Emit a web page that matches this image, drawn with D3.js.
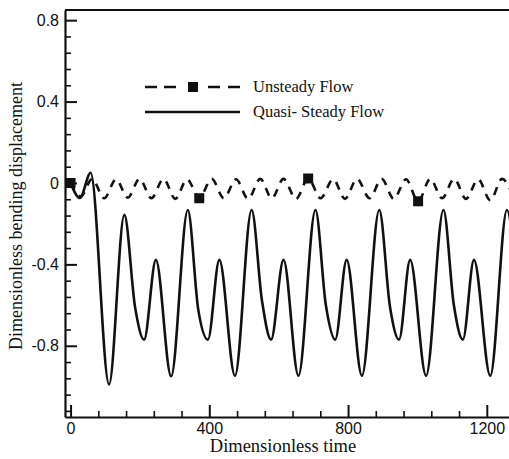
<!DOCTYPE html>
<html>
<head>
<meta charset="utf-8">
<script src="https://cdn.jsdelivr.net/npm/d3@7"></script>
<style>
  html, body { margin: 0; padding: 0; background: #fff; }
  svg { display: block; }
</style>
</head>
<body>
<svg id="chart" width="509" height="459"></svg>
<script>
// ---- data ----
const quasiTime = [0, 27, 58, 111, 155, 186, 212, 246, 290, 338, 368, 396, 429, 474, 522, 552, 578, 614, 657, 706, 736, 763, 796, 840, 890, 921, 947, 979, 1025, 1075, 1105, 1131, 1163, 1210, 1258, 1290];
const quasiValue = [0, -0.074, 0.05, -0.99, -0.157, -0.61, -0.77, -0.378, -0.95, -0.133, -0.62, -0.77, -0.378, -0.947, -0.133, -0.58, -0.77, -0.378, -0.947, -0.133, -0.6, -0.77, -0.378, -0.947, -0.133, -0.61, -0.77, -0.378, -0.947, -0.133, -0.6, -0.77, -0.378, -0.947, -0.133, -0.62];

const unsteadyTime = [0, 30, 62, 97, 131, 165, 199, 233, 268, 302, 336, 371, 407, 442, 477, 512, 547, 580, 614, 650, 685, 721, 757, 791, 826, 862, 897, 932, 967, 1002, 1037, 1071, 1106, 1140, 1175, 1210, 1244, 1278];
const unsteadyValue = [0, -0.065, 0.02, -0.075, 0.018, -0.072, 0.02, -0.075, 0.02, -0.078, 0.018, -0.075, 0.02, -0.075, 0.018, -0.078, 0.02, -0.075, 0.02, -0.078, 0.022, -0.075, 0.018, -0.078, 0.02, -0.075, 0.02, -0.078, 0.018, -0.09, 0.02, -0.075, 0.02, -0.078, 0.018, -0.085, 0.02, -0.075];
const unsteadyMarkerTime = [0, 371, 685, 1002];

const yMajorTicks = [-0.8, -0.4, 0, 0.4, 0.8];
const yTickLabels = ["-0.8", "-0.4", "0", "0.4", "0.8"];
const xMajorTicks = [0, 400, 800, 1200];
const xTickLabels = ["0", "400", "800", "1200"];

const seriesNames = ["Unsteady Flow", "Quasi- Steady Flow"];
const xTitle = "Dimensionless time";
const yTitle = "Dimensionless bending displacement";

// ---- layout ----
const svg = d3.select("#chart");
const pL = 65, pR = 509, pT = 10, pB = 417;
const x = d3.scaleLinear().domain([-16, 1264]).range([pL, pR]);
const y = d3.scaleLinear().domain([-1.15, 0.85]).range([pB, pT]);
const ink = "#111";

svg.append("defs").append("clipPath").attr("id", "clip")
  .append("rect").attr("x", pL).attr("y", pT).attr("width", pR - pL + 10).attr("height", pB - pT);

// minor ticks
const yMinor = d3.range(-1.12, 0.81, 0.08).filter(v => !yMajorTicks.some(m => Math.abs(m - v) < 1e-6));
const xMinor = d3.range(0, 1281, 80).filter(v => !xMajorTicks.includes(v));

svg.append("g").attr("transform", `translate(${pL},0)`)
  .call(d3.axisLeft(y).tickValues(yMinor).tickSize(-6).tickSizeOuter(0).tickFormat(""))
  .call(g => g.select(".domain").remove())
  .call(g => g.selectAll("line").attr("stroke", ink).attr("stroke-width", 1.6));

svg.append("g").attr("transform", `translate(0,${pB})`)
  .call(d3.axisBottom(x).tickValues(xMinor).tickSize(-6).tickSizeOuter(0).tickFormat(""))
  .call(g => g.select(".domain").remove())
  .call(g => g.selectAll("line").attr("stroke", ink).attr("stroke-width", 1.6));

// major axes
const yAxis = svg.append("g").attr("transform", `translate(${pL},0)`)
  .call(d3.axisLeft(y).tickValues(yMajorTicks).tickSize(-12).tickSizeOuter(0).tickPadding(6)
    .tickFormat((d, i) => yTickLabels[i]));
yAxis.select(".domain").attr("stroke", ink).attr("stroke-width", 2.2);
yAxis.selectAll("line").attr("stroke", ink).attr("stroke-width", 2);
yAxis.selectAll("text").attr("fill", ink).style("font-family", "'Liberation Sans', Arial, sans-serif").style("font-size", "16px");

const xAxis = svg.append("g").attr("transform", `translate(0,${pB})`)
  .call(d3.axisBottom(x).tickValues(xMajorTicks).tickSize(-12).tickSizeOuter(0).tickPadding(6)
    .tickFormat((d, i) => xTickLabels[i]));
xAxis.select(".domain").attr("stroke", ink).attr("stroke-width", 2.2);
xAxis.selectAll("line").attr("stroke", ink).attr("stroke-width", 2);
xAxis.selectAll("text").attr("fill", ink).style("font-family", "'Liberation Sans', Arial, sans-serif").style("font-size", "16px");

// top border
svg.append("line").attr("x1", pL).attr("x2", pR).attr("y1", pT).attr("y2", pT)
  .attr("stroke", ink).attr("stroke-width", 2.2);

// ---- series ----
const plot = svg.append("g").attr("clip-path", "url(#clip)");
const line = d3.line().x(d => x(d[0])).y(d => y(d[1])).curve(d3.curveMonotoneX);

const quasiData = quasiTime.map((t, i) => [t, quasiValue[i]]);
const unsteadyData = unsteadyTime.map((t, i) => [t, unsteadyValue[i]]);

plot.append("path").datum(quasiData).attr("d", line)
  .attr("fill", "none").attr("stroke", ink).attr("stroke-width", 2.6);

plot.append("path").datum(unsteadyData).attr("d", line)
  .attr("fill", "none").attr("stroke", ink).attr("stroke-width", 2.6)
  .attr("stroke-dasharray", "8,7");

const markers = unsteadyMarkerTime.map(t => [t, unsteadyValue[unsteadyTime.indexOf(t)]]);
plot.selectAll("rect.mk").data(markers).join("rect").attr("class", "mk")
  .attr("x", d => x(d[0]) - 5).attr("y", d => y(d[1]) - 5)
  .attr("width", 10).attr("height", 10).attr("fill", ink);

// ---- legend ----
const lg = svg.append("g");
const lgX1 = 145, lgX2 = 240, lgText = 253;
const lgY = [87, 112];
lg.append("line").attr("x1", lgX1).attr("x2", 177).attr("y1", lgY[0]).attr("y2", lgY[0])
  .attr("stroke", ink).attr("stroke-width", 2.6).attr("stroke-dasharray", "12,7");
lg.append("line").attr("x1", 208).attr("x2", lgX2).attr("y1", lgY[0]).attr("y2", lgY[0])
  .attr("stroke", ink).attr("stroke-width", 2.6).attr("stroke-dasharray", "12,8");
lg.append("rect").attr("x", 188).attr("y", lgY[0] - 5).attr("width", 10).attr("height", 10)
  .attr("fill", ink);
lg.append("line").attr("x1", lgX1).attr("x2", lgX2).attr("y1", lgY[1]).attr("y2", lgY[1])
  .attr("stroke", ink).attr("stroke-width", 2.6);
lg.selectAll("text").data(seriesNames).join("text")
  .attr("x", lgText).attr("y", (d, i) => lgY[i] + 5)
  .attr("fill", ink)
  .style("font-family", "'Liberation Serif', 'Times New Roman', serif").style("font-size", "16.5px")
  .text(d => d);

// ---- titles ----
svg.append("text").attr("x", 283).attr("y", 452).attr("text-anchor", "middle")
  .attr("fill", ink).style("font-family", "'Liberation Serif', 'Times New Roman', serif").style("font-size", "18.5px")
  .text(xTitle);
svg.append("text").attr("transform", "translate(22,216) rotate(-90)").attr("text-anchor", "middle")
  .attr("fill", ink).style("font-family", "'Liberation Serif', 'Times New Roman', serif").style("font-size", "18px")
  .text(yTitle);
</script>
</body>
</html>
